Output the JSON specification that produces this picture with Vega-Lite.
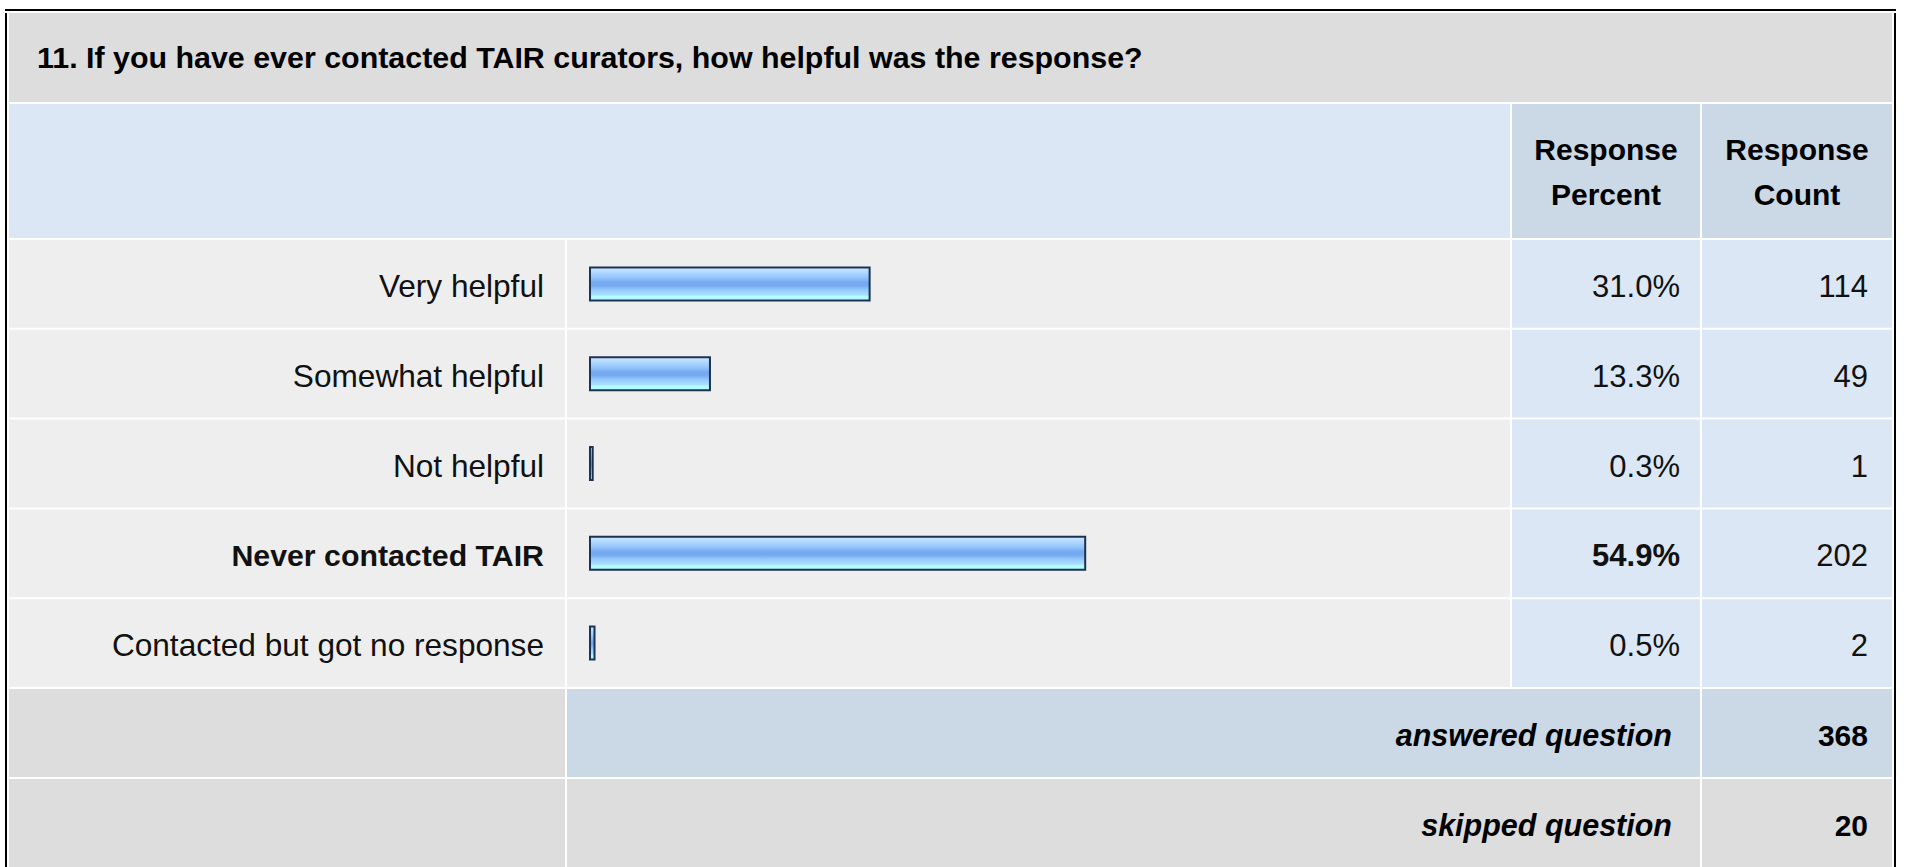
{
  "$schema": "https://vega.github.io/schema/vega-lite/v6.json",
  "background": "white",
  "padding": {"left": 5, "top": 9, "right": 0, "bottom": 0},
  "spacing": 2,
  "datasets": {
    "question": [{"question": "11. If you have ever contacted TAIR curators, how helpful was the response?"}],
    "answers": [
      {"label": "Very helpful", "percent": 0.310, "count": 114},
      {"label": "Somewhat helpful", "percent": 0.133, "count": 49},
      {"label": "Not helpful", "percent": 0.003, "count": 1},
      {"label": "Never contacted TAIR", "percent": 0.549, "count": 202},
      {"label": "Contacted but got no response", "percent": 0.005, "count": 2}
    ],
    "summary": [
      {"status": "answered question", "count": 368},
      {"status": "skipped question", "count": 20}
    ]
  },
  "vconcat": [
    {
      "width": 1891, "height": 2,
      "view": {"fill": "#000000", "stroke": null},
      "data": {"values": [{}]},
      "mark": {"type": "rect", "color": "#000000"},
      "encoding": {}
    },
    {
      "spacing": 2,
      "hconcat": [
        {
          "width": 2, "height": 854,
          "view": {"fill": "#000000", "stroke": null},
          "data": {"values": [{}]},
          "mark": {"type": "rect", "color": "#000000"},
          "encoding": {}
        },
        {
          "spacing": 2,
          "vconcat": [
            {
              "width": 1883, "height": 89,
              "view": {"fill": "#dddddd", "stroke": null},
              "data": {"name": "question"},
              "mark": {"type": "text", "align": "left", "baseline": "middle", "dx": 28, "dy": 1, "font": "Liberation Sans", "fontSize": 30.4, "fontWeight": "bold", "color": "#000000"},
              "encoding": {"text": {"field": "question"}, "x": {"value": 0}}
            },
            {
              "spacing": 2,
              "bounds": "flush",
              "hconcat": [
                {
                  "width": 1501, "height": 134,
                  "view": {"fill": "#dbe7f4", "stroke": null},
                  "data": {"values": [{}]},
                  "mark": {"type": "rect", "color": "#dbe7f4"},
                  "encoding": {}
                },
                {
                  "width": 188, "height": 134,
                  "view": {"fill": "#cbd8e6", "stroke": null},
                  "data": {"values": [{}]},
                  "mark": {"type": "text", "text": ["Response", "Percent"], "lineHeight": 45, "align": "center", "baseline": "middle", "dy": -20, "font": "Liberation Sans", "fontSize": 30, "fontWeight": "bold", "color": "#000000"},
                  "encoding": {}
                },
                {
                  "width": 190, "height": 134,
                  "view": {"fill": "#cbd8e6", "stroke": null},
                  "data": {"values": [{}]},
                  "mark": {"type": "text", "text": ["Response", "Count"], "lineHeight": 45, "align": "center", "baseline": "middle", "dy": -20, "font": "Liberation Sans", "fontSize": 30, "fontWeight": "bold", "color": "#000000"},
                  "encoding": {}
                }
              ]
            },
            {
              "spacing": 2,
              "bounds": "flush",
              "hconcat": [
                {
                  "width": 556, "height": 447,
                  "data": {"name": "answers"},
                  "transform": [{"joinaggregate": [{"op": "max", "field": "percent", "as": "maxPct"}]}],
                  "encoding": {"y": {"field": "label", "type": "nominal", "sort": null, "axis": null, "scale": {"paddingInner": 0.02227, "paddingOuter": 0}}},
                  "layer": [
                    {"mark": {"type": "rect", "color": "#eeeeee"}},
                    {
                      "mark": {"type": "text", "align": "right", "baseline": "middle", "dx": -21, "dy": 4, "font": "Liberation Sans", "fontSize": {"expr": "datum.percent === datum.maxPct ? 30.3 : 31.6"}, "color": "#111111", "fontWeight": {"expr": "datum.percent === datum.maxPct ? 'bold' : 'normal'"}},
                      "encoding": {"text": {"field": "label"}, "x": {"value": "width"}}
                    }
                  ]
                },
                {
                  "width": 943, "height": 447,
                  "data": {"name": "answers"},
                  "encoding": {"y": {"field": "label", "type": "nominal", "sort": null, "axis": null, "scale": {"paddingInner": 0.02227, "paddingOuter": 0}}},
                  "layer": [
                    {"mark": {"type": "rect", "color": "#eeeeee"}},
                    {
                      "mark": {
                        "type": "bar",
                        "size": 33,
                        "stroke": "#1c3252",
                        "strokeWidth": 2,
                        "color": {
                          "gradient": "linear",
                          "x1": 0, "y1": 0, "x2": 0, "y2": 1,
                          "stops": [
                            {"offset": 0, "color": "#d2eaff"},
                            {"offset": 0.15, "color": "#b0d8ff"},
                            {"offset": 0.3, "color": "#96c6fc"},
                            {"offset": 0.45, "color": "#76aaf0"},
                            {"offset": 0.55, "color": "#76aaf0"},
                            {"offset": 0.7, "color": "#98ccff"},
                            {"offset": 0.82, "color": "#a6defe"},
                            {"offset": 0.88, "color": "#b2fcff"},
                            {"offset": 1, "color": "#b2fcff"}
                          ]
                        }
                      },
                      "encoding": {"x": {"field": "percent", "type": "quantitative", "axis": null, "scale": {"domain": [0, 1], "range": [23, 925]}}}
                    }
                  ]
                },
                {
                  "width": 188, "height": 447,
                  "data": {"name": "answers"},
                  "transform": [{"joinaggregate": [{"op": "max", "field": "percent", "as": "maxPct"}]}],
                  "encoding": {"y": {"field": "label", "type": "nominal", "sort": null, "axis": null, "scale": {"paddingInner": 0.02227, "paddingOuter": 0}}},
                  "layer": [
                    {"mark": {"type": "rect", "color": "#dbe7f4"}},
                    {
                      "mark": {"type": "text", "align": "right", "baseline": "middle", "dx": -20, "dy": 4, "font": "Liberation Sans", "fontSize": 31, "color": "#111111", "fontWeight": {"expr": "datum.percent === datum.maxPct ? 'bold' : 'normal'"}},
                      "encoding": {"text": {"field": "percent", "type": "quantitative", "format": ".1%"}, "x": {"value": "width"}}
                    }
                  ]
                },
                {
                  "width": 190, "height": 447,
                  "data": {"name": "answers"},
                  "encoding": {"y": {"field": "label", "type": "nominal", "sort": null, "axis": null, "scale": {"paddingInner": 0.02227, "paddingOuter": 0}}},
                  "layer": [
                    {"mark": {"type": "rect", "color": "#dbe7f4"}},
                    {
                      "mark": {"type": "text", "align": "right", "baseline": "middle", "dx": -24, "dy": 4, "font": "Liberation Sans", "fontSize": 31, "color": "#111111"},
                      "encoding": {"text": {"field": "count", "type": "quantitative"}, "x": {"value": "width"}}
                    }
                  ]
                }
              ]
            },
            {
              "spacing": 2,
              "bounds": "flush",
              "hconcat": [
                {
                  "width": 556, "height": 178,
                  "data": {"name": "summary"},
                  "encoding": {"y": {"field": "status", "type": "nominal", "sort": null, "axis": null, "scale": {"paddingInner": 0.02222, "paddingOuter": 0}}},
                  "mark": {"type": "rect", "color": "#dddddd"}
                },
                {
                  "width": 1133, "height": 178,
                  "data": {"name": "summary"},
                  "encoding": {"y": {"field": "status", "type": "nominal", "sort": null, "axis": null, "scale": {"paddingInner": 0.02222, "paddingOuter": 0}}},
                  "layer": [
                    {
                      "mark": {"type": "rect"},
                      "encoding": {"color": {"field": "status", "type": "nominal", "legend": null, "scale": {"domain": ["answered question", "skipped question"], "range": ["#cbd8e6", "#dddddd"]}}}
                    },
                    {
                      "mark": {"type": "text", "align": "right", "baseline": "middle", "dx": -28, "dy": 4, "font": "Liberation Sans", "fontSize": 30.5, "fontWeight": "bold", "fontStyle": "italic", "color": "#000000"},
                      "encoding": {"text": {"field": "status"}, "x": {"value": "width"}}
                    }
                  ]
                },
                {
                  "width": 190, "height": 178,
                  "data": {"name": "summary"},
                  "encoding": {"y": {"field": "status", "type": "nominal", "sort": null, "axis": null, "scale": {"paddingInner": 0.02222, "paddingOuter": 0}}},
                  "layer": [
                    {
                      "mark": {"type": "rect"},
                      "encoding": {"color": {"field": "status", "type": "nominal", "legend": null, "scale": {"domain": ["answered question", "skipped question"], "range": ["#cbd8e6", "#dddddd"]}}}
                    },
                    {
                      "mark": {"type": "text", "align": "right", "baseline": "middle", "dx": -24, "dy": 4, "font": "Liberation Sans", "fontSize": 30, "fontWeight": "bold", "color": "#000000"},
                      "encoding": {"text": {"field": "count", "type": "quantitative"}, "x": {"value": "width"}}
                    }
                  ]
                }
              ]
            }
          ]
        },
        {
          "width": 2, "height": 854,
          "view": {"fill": "#000000", "stroke": null},
          "data": {"values": [{}]},
          "mark": {"type": "rect", "color": "#000000"},
          "encoding": {}
        }
      ]
    }
  ],
  "resolve": {"scale": {"color": "independent"}},
  "config": {
    "view": {"stroke": null},
    "concat": {"spacing": 2},
    "text": {"font": "Liberation Sans"}
  }
}
